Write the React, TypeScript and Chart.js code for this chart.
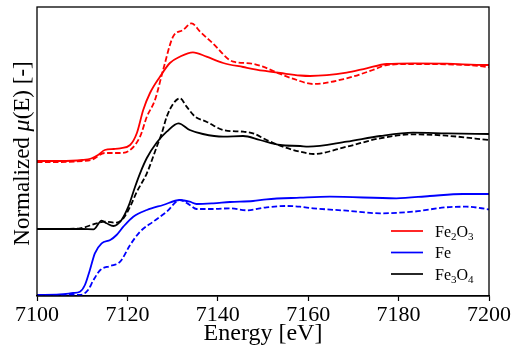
import React, { useEffect, useRef } from "react";
import { Chart, registerables } from "chart.js";

Chart.register(...registerables);

// Energy grids (eV) and normalized mu(E) values (stacked with offsets) per spectrum
const eFe2O3Sample = [7100, 7105, 7110, 7112, 7113.5, 7115, 7117, 7118.4, 7120.6, 7122.1, 7123.5, 7125, 7127.2, 7129.4, 7131.6, 7134.5, 7137.5, 7141.2, 7145.6, 7150, 7153.8, 7158.2, 7160.4, 7168.5, 7172.9, 7177.4, 7183.2, 7190.6, 7199.5, 7200];
const muFe2O3Sample = [135, 135, 136, 137.5, 141, 146, 147, 147.7, 151, 163, 186, 203, 219.3, 233, 239.3, 243.7, 239.3, 233, 229, 225.3, 223, 220.5, 220, 223.3, 227.7, 232, 232.7, 232.3, 231, 231];

const eFe2O3Ref = [7100, 7105, 7110, 7112, 7115, 7118.4, 7120.6, 7122.8, 7124.3, 7126.1, 7127.9, 7130.1, 7132.3, 7134.2, 7136.1, 7138.9, 7143.4, 7147.1, 7150, 7153.8, 7157.5, 7161.1, 7168.5, 7174.3, 7177.4, 7183.2, 7190.6, 7198, 7200];
const muFe2O3Ref = [134, 134, 135, 136, 143, 143, 146, 159.3, 179.3, 196, 226, 259.3, 266, 272.7, 264.3, 252.7, 234.3, 232.7, 229.3, 222, 216, 212, 217.7, 226, 231, 232, 231.7, 230, 228.7];

const eFeSample = [7100, 7105, 7108, 7109.5, 7110.6, 7111.7, 7112.8, 7114.3, 7116.2, 7117.6, 7119.1, 7121.3, 7124.3, 7127.9, 7131.6, 7133.8, 7135.3, 7139, 7142.7, 7147.8, 7150.8, 7158.2, 7164.8, 7179.5, 7186.9, 7194.2, 7200];
const muFeSample = [1, 1.5, 3, 4.3, 11, 26, 42.7, 52.7, 56, 61, 69.3, 79.3, 86, 91, 96, 94.3, 92, 92.7, 94, 95, 96.7, 98.3, 99.3, 97.7, 100, 102, 102];

const eFeRef = [7100, 7105, 7109.5, 7111.3, 7112.5, 7114, 7116.2, 7118.4, 7120.6, 7122.8, 7125.7, 7128.7, 7131.6, 7133.8, 7135.3, 7139, 7142.7, 7146.4, 7150.8, 7155.2, 7158.2, 7161.1, 7168.5, 7175.9, 7183.2, 7190.6, 7195, 7200];
const muFeRef = [0.5, 1, 1, 6, 16, 26, 30, 34.3, 51, 64.3, 74.3, 84.3, 96, 91, 87, 87, 87.7, 85.7, 88.7, 90, 89.3, 87.7, 85.3, 82.7, 84.3, 88.7, 89.3, 86.7];

const eFe3O4Sample = [7100, 7105, 7110, 7112.5, 7114.3, 7115.4, 7116.9, 7118.7, 7120.2, 7121.7, 7122.8, 7124.3, 7126.5, 7128.7, 7131.3, 7133.8, 7136.7, 7141.2, 7145.6, 7149.3, 7153.8, 7158.2, 7160, 7168.5, 7175.9, 7183.2, 7190.6, 7200];
const muFe3O4Sample = [67, 67, 67, 66.7, 75.3, 72.7, 70, 76, 89.3, 109.3, 122.7, 138, 153.5, 164.3, 172.7, 166, 162, 159.3, 160, 156, 151, 150, 149.3, 154.3, 160, 163.3, 162.7, 162];

const eFe3O4Ref = [7100, 7105, 7109.5, 7113.2, 7115, 7117.6, 7119.1, 7120.6, 7122.1, 7124.3, 7126.5, 7127.6, 7128.7, 7130.2, 7131.6, 7133.1, 7135, 7137.5, 7141.2, 7145.6, 7147.8, 7150.8, 7154.4, 7158.2, 7161.1, 7168.5, 7175.9, 7183.2, 7190.6, 7200];
const muFe3O4Ref = [67, 67, 67.7, 72.7, 74.3, 73.3, 77.7, 89.3, 104.3, 122.7, 149.3, 162.7, 179.3, 192.7, 197.7, 189.3, 179.3, 174.3, 166, 164.3, 162.7, 156, 149.3, 144.3, 142, 149.3, 157.7, 161.7, 160.3, 156];

const xTickValues = [7100, 7120, 7140, 7160, 7180, 7200];
const legendLabels = [
  [{ t: "Fe", sub: false }, { t: "2", sub: true }, { t: "O", sub: false }, { t: "3", sub: true }],
  [{ t: "Fe", sub: false }],
  [{ t: "Fe", sub: false }, { t: "3", sub: true }, { t: "O", sub: false }, { t: "4", sub: true }],
];
const legendColors = ["#ff0000", "#0000ff", "#000000"];

const SERIF = '"Liberation Serif", "Times New Roman", serif';

const toPts = (xs: number[], ys: number[]) => xs.map((x, i) => ({ x, y: ys[i] }));

const customPlugin = {
  id: "customDecor",
  afterDraw(chart: any) {
    const { ctx, chartArea } = chart;
    ctx.save();
    // frame
    ctx.strokeStyle = "#000";
    ctx.lineWidth = 1.3;
    ctx.strokeRect(chartArea.left, chartArea.top, chartArea.right - chartArea.left, chartArea.bottom - chartArea.top);

    // y-axis label with italic mu
    const segs = [
      { t: "Normalized ", f: `23px ${SERIF}` },
      { t: "\u03BC", f: `italic 24px ${SERIF}` },
      { t: "(E) [-]", f: `23px ${SERIF}` },
    ];
    let total = 0;
    segs.forEach((s) => { ctx.font = s.f; total += ctx.measureText(s.t).width; });
    const cy = 153.5;
    ctx.translate(29, cy);
    ctx.rotate(-Math.PI / 2);
    ctx.fillStyle = "#000";
    ctx.textBaseline = "alphabetic";
    let x = -total / 2;
    segs.forEach((s) => { ctx.font = s.f; ctx.fillText(s.t, x, 0); x += ctx.measureText(s.t).width; });
    ctx.setTransform(1, 0, 0, 1, 0, 0);

    // legend
    const lx0 = chartArea.left + 354;
    const ly0 = chartArea.top + 224;
    const step = 21.5;
    legendLabels.forEach((lab, i) => {
      const y = ly0 + i * step;
      ctx.strokeStyle = legendColors[i];
      ctx.lineWidth = 1.7;
      ctx.setLineDash([]);
      ctx.beginPath();
      ctx.moveTo(lx0, y);
      ctx.lineTo(lx0 + 32, y);
      ctx.stroke();
      let tx = lx0 + 44;
      ctx.fillStyle = "#000";
      lab.forEach((p) => {
        ctx.font = p.sub ? `11px ${SERIF}` : `16px ${SERIF}`;
        ctx.fillText(p.t, tx, y + (p.sub ? 8.5 : 5.5));
        tx += ctx.measureText(p.t).width;
      });
    });
    ctx.restore();
  },
};

export default function App() {
  const ref = useRef<HTMLCanvasElement | null>(null);
  useEffect(() => {
    if (!ref.current) return;
    const solid = (data: any, color: string) => ({
      data, borderColor: color, backgroundColor: color, borderWidth: 1.8,
      pointRadius: 0, cubicInterpolationMode: "monotone" as const, fill: false,
    });
    const dashed = (data: any, color: string) => ({ ...solid(data, color), borderDash: [5.5, 2.5] });
    const chart = new Chart(ref.current, {
      type: "line",
      data: {
        datasets: [
          solid(toPts(eFe2O3Sample, muFe2O3Sample), "#ff0000"),
          dashed(toPts(eFe2O3Ref, muFe2O3Ref), "#ff0000"),
          solid(toPts(eFeSample, muFeSample), "#0000ff"),
          dashed(toPts(eFeRef, muFeRef), "#0000ff"),
          solid(toPts(eFe3O4Sample, muFe3O4Sample), "#000000"),
          dashed(toPts(eFe3O4Ref, muFe3O4Ref), "#000000"),
        ],
      },
      options: {
        responsive: false,
        animation: false,
        layout: { padding: { left: 37, right: 25, top: 7, bottom: 0 } },
        plugins: { legend: { display: false }, tooltip: { enabled: false } },
        scales: {
          x: {
            type: "linear",
            min: 7100,
            max: 7200,
            afterBuildTicks: (scale: any) => { scale.ticks = xTickValues.map((v) => ({ value: v })); },
            afterFit: (scale: any) => { scale.height = 50; },
            ticks: { color: "#000", font: { family: SERIF, size: 22 }, padding: 1, maxRotation: 0, callback: (v: any) => String(v) },
            grid: { drawOnChartArea: false, tickLength: 5, color: "#000", tickWidth: 1.2 },
            border: { color: "#000", width: 1.3 },
            title: { display: true, text: "Energy [eV]", color: "#000", font: { family: SERIF, size: 24, lineHeight: 1 }, padding: 0 },
          },
          y: { display: false, min: 0, max: 289 },
        },
      },
      plugins: [customPlugin],
    });
    return () => chart.destroy();
  }, []);
  return (
    <div style={{ position: "fixed", left: 0, top: 0, width: 514, height: 346, background: "#fff" }}>
      <canvas ref={ref} width={514} height={346} style={{ width: 514, height: 346, display: "block" }} />
    </div>
  );
}
